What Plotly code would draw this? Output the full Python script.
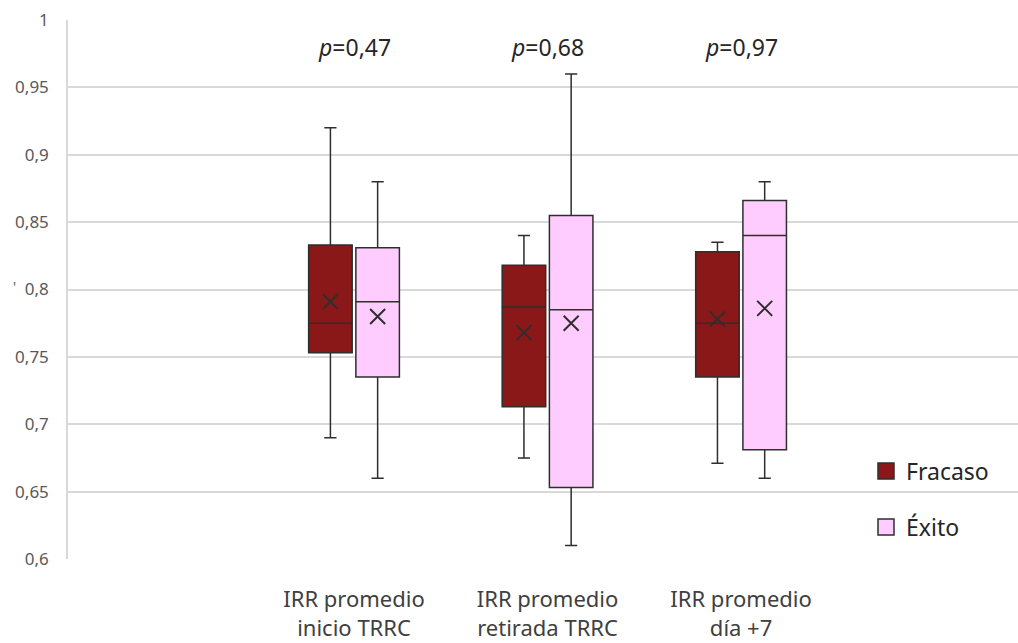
import plotly.graph_objects as go

categories = ["IRR promedio<br>inicio TRRC", "IRR promedio<br>retirada TRRC", "IRR promedio<br>día +7"]
p_values = ["<i>p</i>=0,47", "<i>p</i>=0,68", "<i>p</i>=0,97"]

fracaso_low = [0.69, 0.675, 0.671]
fracaso_q1 = [0.753, 0.713, 0.735]
fracaso_med = [0.775, 0.787, 0.775]
fracaso_q3 = [0.833, 0.818, 0.828]
fracaso_high = [0.92, 0.84, 0.835]
fracaso_mean = [0.791, 0.768, 0.778]

exito_low = [0.66, 0.61, 0.66]
exito_q1 = [0.735, 0.653, 0.681]
exito_med = [0.791, 0.785, 0.84]
exito_q3 = [0.831, 0.855, 0.866]
exito_high = [0.88, 0.96, 0.88]
exito_mean = [0.780, 0.775, 0.786]

y_ticks = [0.6, 0.65, 0.7, 0.75, 0.8, 0.85, 0.9, 0.95, 1.0]
y_ticktext = ["0,6", "0,65", "0,7", "0,75", "0,8", "0,85", "0,9", "0,95", "1"]

FRACASO_COLOR = "#8B1818"
EXITO_COLOR = "#FFCCFF"
LINE_COLOR = "#2E2E2E"
OFFSET = 0.122
BOX_W = 0.225
FONT = "Noto Sans"

pos = list(range(len(categories)))

fig = go.Figure()

series = [
    ("Fracaso", FRACASO_COLOR, -OFFSET, fracaso_low, fracaso_q1, fracaso_med, fracaso_q3, fracaso_high, fracaso_mean),
    ("Éxito", EXITO_COLOR, OFFSET, exito_low, exito_q1, exito_med, exito_q3, exito_high, exito_mean),
]

for name, color, off, lo, q1, med, q3, hi, mean in series:
    xs = [p + off for p in pos]
    fig.add_trace(go.Box(
        x=xs, lowerfence=lo, q1=q1, median=med, q3=q3, upperfence=hi,
        width=BOX_W, fillcolor=color, line=dict(color=LINE_COLOR, width=1.5),
        whiskerwidth=0.28, name=name, showlegend=False, hoverinfo="skip",
    ))
    fig.add_trace(go.Scatter(
        x=xs, y=mean, mode="markers", showlegend=False, hoverinfo="skip",
        marker=dict(symbol="x-thin", size=15, line=dict(color=LINE_COLOR, width=2)),
    ))

for i, (name, color, *_rest) in enumerate(series):
    fig.add_trace(go.Scatter(
        x=[None], y=[None], mode="markers", name=name, legendgroup=name,
        marker=dict(symbol="square", size=22, color=color, line=dict(color=LINE_COLOR, width=1.5)),
    ))

for p, txt in zip(pos, p_values):
    fig.add_annotation(x=p, y=0.98, text=txt, showarrow=False, xref="x", yref="y",
                       font=dict(family=FONT, size=23, color="#262626"))

fig.add_annotation(x=-0.06, y=0.505, xref="x domain", yref="paper", text="'", showarrow=False,
                   font=dict(family=FONT, size=14, color="#595959"), xanchor="left")

fig.update_layout(
    width=1018, height=643,
    margin=dict(l=68, r=0, t=20, b=84),
    plot_bgcolor="white", paper_bgcolor="white",
    font=dict(family=FONT, color="#404040"),
    legend=dict(x=0.84, y=0.203, xanchor="left", yanchor="top",
                font=dict(family=FONT, size=23, color="#262626"),
                tracegroupgap=23, bgcolor="rgba(0,0,0,0)"),
)
fig.update_xaxes(
    range=[-1.478, 3.431], tickvals=pos, ticktext=categories,
    tickfont=dict(family=FONT, size=22, color="#404040"),
    showgrid=False, zeroline=False, showline=False, ticks="", ticklabelstandoff=25,
)
fig.update_yaxes(
    range=[0.6, 1.0], tickvals=y_ticks, ticktext=y_ticktext,
    tickfont=dict(family=FONT, size=17, color="#595959"),
    showgrid=True, gridcolor="#D9D9D9", gridwidth=1.5, zeroline=False,
    showline=True, linecolor="#D9D9D9", linewidth=1.5, ticks="", ticklabelstandoff=14,
)

fig.write_html("out.html")
